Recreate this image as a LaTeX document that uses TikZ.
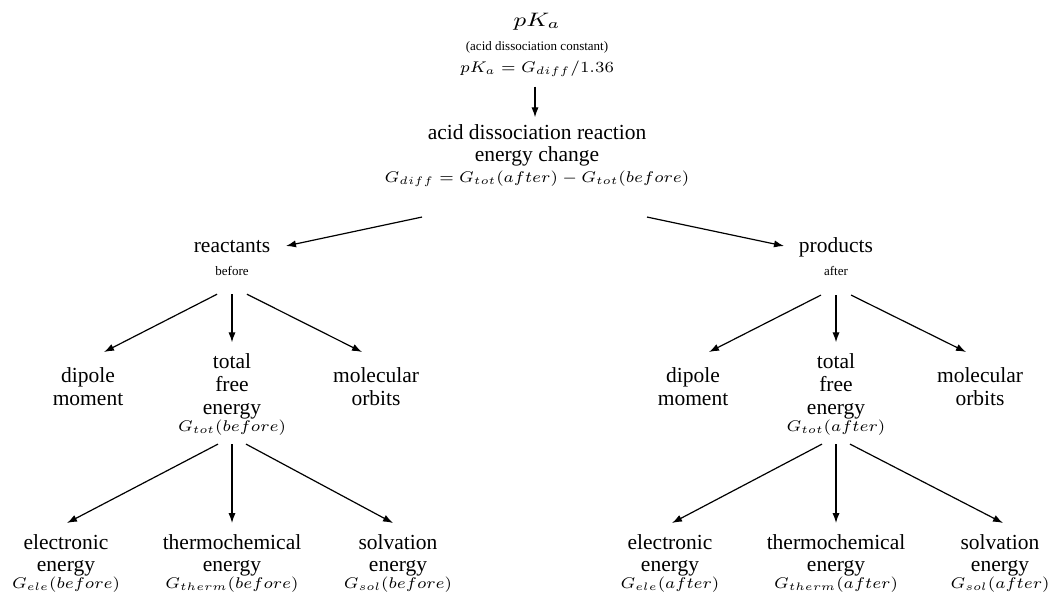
\RequirePackage{fix-cm}
\documentclass[tikz,border=0pt]{standalone}
\usepackage[no-math]{fontspec}
\setmainfont{Liberation Serif}
\usepackage{graphicx}
\usetikzlibrary{arrows.meta,calc}
\newcommand\mth[1]{\scalebox{1.07}[1]{$#1$}}
\newcommand\msz{\fontsize{7.75}{9}\selectfont}
\newcommand\ssz{\fontsize{6.5}{8}\selectfont}
\tikzset{
  lbl/.style={inner sep=0pt, outer sep=0pt, align=center, anchor=north,
    font=\fontsize{10.75}{11}\selectfont},
  arr/.style={-{Latex[length=5pt,width=3.6pt]}, line width=0.6pt},
}
\begin{document}
\begin{tikzpicture}[x=0.5pt,y=-0.5pt]
\useasboundingbox (0,0) rectangle (1052,593);
% top
\node[lbl] (pka) at (537,13.5) {{\fontsize{9.75}{11}\selectfont\scalebox{1.25}[1]{$pK_a$}}\\[0.75pt]{\ssz (acid dissociation constant)}\\[0pt]{\msz\mth{pK_a = G_{diff}/1.36}}};
\node[lbl] (acid) at (537,124.3) {acid dissociation reaction\\[0.25pt]energy change\\[-0.5pt]{\msz\mth{G_{diff} = G_{tot}(after) - G_{tot}(before)}}};
% second level
\node[lbl] (reac) at (232,240) {reactants\\[0.5pt]{\ssz before}};
\node[lbl] (prod) at (836,238) {products\\[0.5pt]{\ssz after}};
% third level left
\node[lbl] (dipL) at (88,368) {dipole\\[0.5pt]moment};
\node[lbl] (totL) at (232,353.3) {total\\[0.5pt]free\\[0.5pt]energy\\[-2.5pt]{\msz\mth{G_{tot}(before)}}};
\node[lbl] (molL) at (376,368) {molecular\\[0.5pt]orbits};
% third level right
\node[lbl] (dipR) at (693,368) {dipole\\[0.5pt]moment};
\node[lbl] (totR) at (836,353.3) {total\\[0.5pt]free\\[0.5pt]energy\\[-2.5pt]{\msz\mth{G_{tot}(after)}}};
\node[lbl] (molR) at (980,368) {molecular\\[0.5pt]orbits};
% bottom left
\node[lbl] (eleL) at (66,535) {electronic\\[-0.35pt]energy\\[-2.5pt]{\msz\mth{G_{ele}(before)}}};
\node[lbl] (thmL) at (232,535) {thermochemical\\[-0.35pt]energy\\[-2.5pt]{\msz\mth{G_{therm}(before)}}};
\node[lbl] (solL) at (398,535) {solvation\\[-0.35pt]energy\\[-2.5pt]{\msz\mth{G_{sol}(before)}}};
% bottom right
\node[lbl] (eleR) at (670,535) {electronic\\[-0.35pt]energy\\[-2.5pt]{\msz\mth{G_{ele}(after)}}};
\node[lbl] (thmR) at (836,535) {thermochemical\\[-0.35pt]energy\\[-2.5pt]{\msz\mth{G_{therm}(after)}}};
\node[lbl] (solR) at (1000,535) {solvation\\[-0.35pt]energy\\[-2.5pt]{\msz\mth{G_{sol}(after)}}};
% connectors
\draw[arr] ($(pka.south)+(-2,10)$) -- ($(acid.north)+(-2,-7)$);
\draw[arr] ($(acid.south)+(-115,30)$) -- ($(reac.north)+(54,6)$);
\draw[arr] ($(acid.south)+(110,30)$) -- ($(prod.north)+(-52,8)$);
\foreach \p/\d/\t/\m in {reac/dipL/totL/molL, prod/dipR/totR/molR}{
  \draw[arr] ($(\p.south)+(-15,19)$) -- ($(\d.north)+(16,-16)$);
  \draw[arr] ($(\p.south)+(0,19)$) -- ($(\t.north)+(0,-11)$);
  \draw[arr] ($(\p.south)+(15,19)$) -- ($(\m.north)+(-14,-16)$);
}
\draw[arr] ($(totL.south)+(-14,9)$) -- ($(eleL.north)+(1,-12)$);
\draw[arr] ($(totL.south)+(0,9)$) -- ($(thmL.north)+(0,-12)$);
\draw[arr] ($(totL.south)+(14,9)$) -- ($(solL.north)+(-5,-12)$);
\draw[arr] ($(totR.south)+(-14,9)$) -- ($(eleR.north)+(2,-12)$);
\draw[arr] ($(totR.south)+(0,9)$) -- ($(thmR.north)+(0,-12)$);
\draw[arr] ($(totR.south)+(14,9)$) -- ($(solR.north)+(3,-12)$);
\end{tikzpicture}
\end{document}
